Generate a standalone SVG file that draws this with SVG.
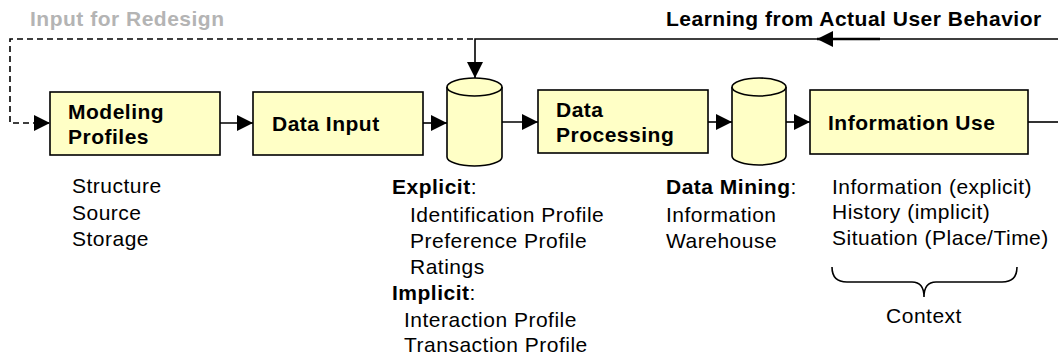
<svg xmlns="http://www.w3.org/2000/svg" width="1058" height="358" viewBox="0 0 1058 358">
<defs>
<style>
.box{fill:#FFFFC6;stroke:#000;stroke-width:1.6}
.t{font-family:"Liberation Sans",Arial,sans-serif;font-size:21px;letter-spacing:0.5px;fill:#000}
.b{font-weight:bold}
.c{fill:none;stroke:#000;stroke-width:1.6}
.gray{fill:#B4B4B4}
</style>
<marker id="ah" markerUnits="userSpaceOnUse" markerWidth="17" markerHeight="17" refX="16" refY="8" orient="auto" viewBox="0 0 17 17">
<path d="M0,0 L16,8 L0,16 Z" fill="#000"/>
</marker>
</defs>
<text class="t b gray" x="30" y="26">Input for Redesign</text>
<text class="t b" x="666" y="26">Learning from Actual User Behavior</text>
<g id="connectors">
<path class="c" d="M473,39 H10 V123 H50" stroke-dasharray="6,4" marker-end="url(#ah)"/>
<path class="c" d="M1058,39 H475 V78" marker-end="url(#ah)"/>
<path d="M880,39 H817" fill="none" stroke="#000" stroke-width="2.5" marker-end="url(#ah)"/>
<path class="c" d="M220,123 H253" marker-end="url(#ah)"/>
<path class="c" d="M423,123 H447" marker-end="url(#ah)"/>
<path class="c" d="M502,122 H538" marker-end="url(#ah)"/>
<path class="c" d="M708,122 H732" marker-end="url(#ah)"/>
<path class="c" d="M786,122 H810" marker-end="url(#ah)"/>
<path class="c" d="M1028,122 H1058"/>
</g>
<g id="modeling-profiles">
<rect class="box" x="50" y="92" width="170" height="63"/>
<text class="t b" x="68" y="119">Modeling</text>
<text class="t b" x="68" y="144">Profiles</text>
</g>
<g id="data-input">
<rect class="box" x="253" y="92" width="170" height="63"/>
<text class="t b" x="272" y="131">Data Input</text>
</g>
<g id="db1">
<path class="box" d="M447,87 V157 A27.5,9 0 0 0 502,157 V87"/>
<ellipse class="box" cx="474.5" cy="87" rx="27.5" ry="9"/>
</g>
<g id="data-processing">
<rect class="box" x="538" y="90" width="170" height="63"/>
<text class="t b" x="556" y="117">Data</text>
<text class="t b" x="556" y="142">Processing</text>
</g>
<g id="db2">
<path class="box" d="M732,87 V156 A27,9 0 0 0 786,156 V87"/>
<ellipse class="box" cx="759" cy="87" rx="27" ry="9"/>
</g>
<g id="information-use">
<rect class="box" x="810" y="90" width="218" height="64"/>
<text class="t b" x="828" y="130">Information Use</text>
</g>
<g id="notes-modeling">
<text class="t" x="72" y="193">Structure</text>
<text class="t" x="72" y="220">Source</text>
<text class="t" x="72" y="246">Storage</text>
</g>
<g id="notes-data">
<text class="t" x="392" y="194"><tspan class="b">Explicit</tspan>:</text>
<text class="t" x="410" y="222">Identification Profile</text>
<text class="t" x="410" y="248">Preference Profile</text>
<text class="t" x="410" y="274">Ratings</text>
<text class="t" x="392" y="300"><tspan class="b">Implicit</tspan>:</text>
<text class="t" x="404" y="327">Interaction Profile</text>
<text class="t" x="404" y="352">Transaction Profile</text>
</g>
<g id="notes-mining">
<text class="t" x="666" y="194"><tspan class="b">Data Mining</tspan>:</text>
<text class="t" x="666" y="222">Information</text>
<text class="t" x="666" y="248">Warehouse</text>
</g>
<g id="notes-use">
<text class="t" x="832" y="194">Information (explicit)</text>
<text class="t" x="832" y="219">History (implicit)</text>
<text class="t" x="832" y="245">Situation (Place/Time)</text>
<path class="c" d="M832,267 Q832,282 847,282 H912 Q924,282 924,297 Q924,282 936,282 H1002 Q1017,282 1017,267"/>
<text class="t" x="924" y="323" text-anchor="middle">Context</text>
</g>
</svg>
